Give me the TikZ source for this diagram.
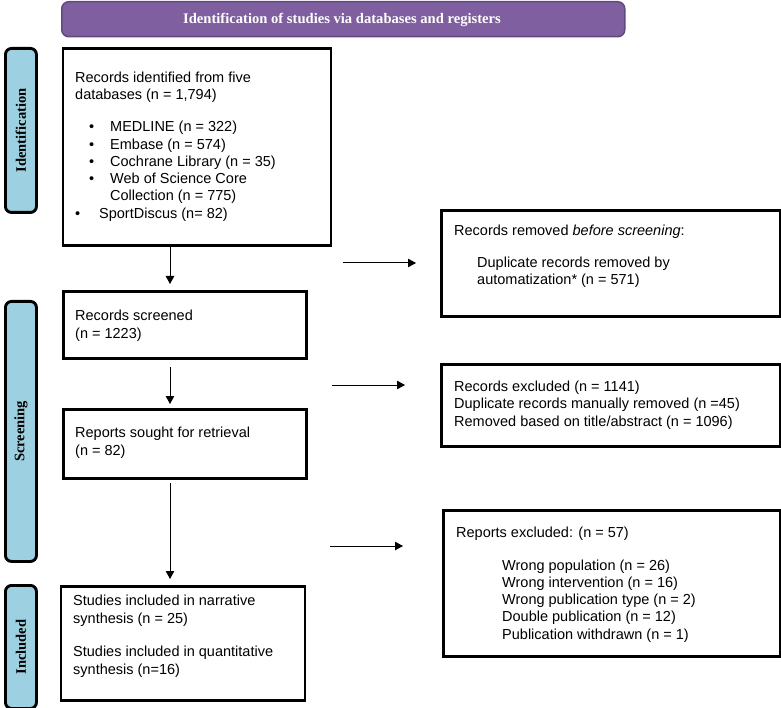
\documentclass[tikz,border=0pt]{standalone}
\usepackage{fontspec}
\setmainfont{Liberation Sans}
\newfontfamily\serifbold{Liberation Serif}
\usetikzlibrary{arrows.meta,calc}
\definecolor{bannerfill}{HTML}{7F5FA0}
\definecolor{bannerdraw}{HTML}{5E4A7E}
\definecolor{sidefill}{HTML}{9DD0E0}
\begin{document}
\begin{tikzpicture}[x=1pt,y=-1pt,
  box/.style={draw=black, line width=2.9pt, rectangle, inner sep=0pt, anchor=north west},
  side/.style={draw=black, line width=2.9pt, fill=sidefill, rounded corners=6pt, rectangle, inner sep=0pt, anchor=north west},
  sidetxt/.style={rotate=90, font=\serifbold\bfseries\fontsize{14.5}{17}\selectfont, inner sep=0pt},
  txt/.style={anchor=base west, inner sep=0pt, align=left, font=\fontsize{14.5}{17.2}\selectfont},
  arr/.style={-{Triangle[length=8pt,width=8.5pt]}, line width=1pt}]
\useasboundingbox (0,0) rectangle (781,708);

% banner
\node[draw=bannerdraw, line width=1.5pt, fill=bannerfill, rounded corners=7pt, inner sep=0pt,
      minimum width=563pt, minimum height=35pt, anchor=north west] (banner) at (61,1) {};
\node[font=\serifbold\bfseries\fontsize{14.6}{17}\selectfont, text=white, inner sep=0pt] (bannertxt) at (342,20) {Identification of studies via databases and registers};

% side labels
\node[side, minimum width=31pt, minimum height=164pt] (sideid) at (4,47) {};
\node[sidetxt] (sideidtxt) at (sideid.center) {Identification};
\node[side, minimum width=31pt, minimum height=260pt] (sidesc) at (4,300) {};
\node[sidetxt] (sidesctxt) at (sidesc.center) {Screening};
\node[side, minimum width=31pt, minimum height=123pt] (sidein) at (4,584) {};
\node[sidetxt] (sideintxt) at (sidein.center) {Included};

% left boxes (base west of a multi-line text = baseline of its last line)
\node[box, minimum width=268pt, minimum height=197pt] (b1) at (61.5,47) {};
\node[txt] (b1t) at (75,100) {Records identified from five\\databases (n = 1,794)};
\node[txt] (b1l) at (89,200.7) {\makebox[21pt][l]{•}MEDLINE (n = 322)\\
  \makebox[21pt][l]{•}Embase (n = 574)\\
  \makebox[21pt][l]{•}Cochrane Library (n = 35)\\
  \makebox[21pt][l]{•}Web of Science Core\\
  \hspace*{21pt}Collection (n = 775)};
\node[txt] (b1s) at (75,218.5) {\makebox[24pt][l]{•}SportDiscus (n= 82)};

\node[box, minimum width=243pt, minimum height=67pt] (b2) at (62,290) {};
\node[txt] (b2t) at (75,338) {Records screened\\(n = 1223)};

\node[box, minimum width=243pt, minimum height=69pt] (b3) at (62,408) {};
\node[txt] (b3t) at (75,455) {Reports sought for retrieval\\(n = 82)};

\node[box, minimum width=244pt, minimum height=114pt] (b4) at (59.5,585) {};
\node[txt] (b4t) at (73,623) {Studies included in narrative\\synthesis (n = 25)};
\node[txt] (b4u) at (73,674) {Studies included in quantitative\\synthesis (n=16)};

% right boxes
\node[box, minimum width=339pt, minimum height=106pt] (r1) at (440,209) {};
\node[txt] (r1t) at (454,235.5) {Records removed \emph{before screening}:};
\node[txt] (r1u) at (477,285) {Duplicate records removed by\\automatization* (n = 571)};

\node[box, minimum width=339pt, minimum height=82pt] (r2) at (440,363) {};
\node[txt] (r2t) at (454,426) {Records excluded (n = 1141)\\Duplicate records manually removed (n =45)\\Removed based on title/abstract (n = 1096)};

\node[box, minimum width=337pt, minimum height=146pt] (r3) at (442,509) {};
\node[txt] (r3t) at (456,537) {Reports excluded: (n = 57)};
\node[txt] (r3u) at (502,639) {Wrong population (n = 26)\\Wrong intervention (n = 16)\\Wrong publication type (n = 2)\\Double publication (n = 12)\\Publication withdrawn (n = 1)};

% arrow end points
\coordinate (v1s) at (170,247);
\coordinate (v1e) at (170,284);
\coordinate (v2s) at (170,367);
\coordinate (v2e) at (170,404);
\coordinate (v3s) at (170,483);
\coordinate (v3e) at (170,579);
\coordinate (h1s) at (343,263);
\coordinate (h1e) at (416,263);
\coordinate (h2s) at (332,385);
\coordinate (h2e) at (405,385);
\coordinate (h3s) at (330,546);
\coordinate (h3e) at (403,546);
\draw[arr] (v1s) -- (v1e);
\draw[arr] (v2s) -- (v2e);
\draw[arr] (v3s) -- (v3e);
\draw[arr] (h1s) -- (h1e);
\draw[arr] (h2s) -- (h2e);
\draw[arr] (h3s) -- (h3e);
\end{tikzpicture}
\end{document}
